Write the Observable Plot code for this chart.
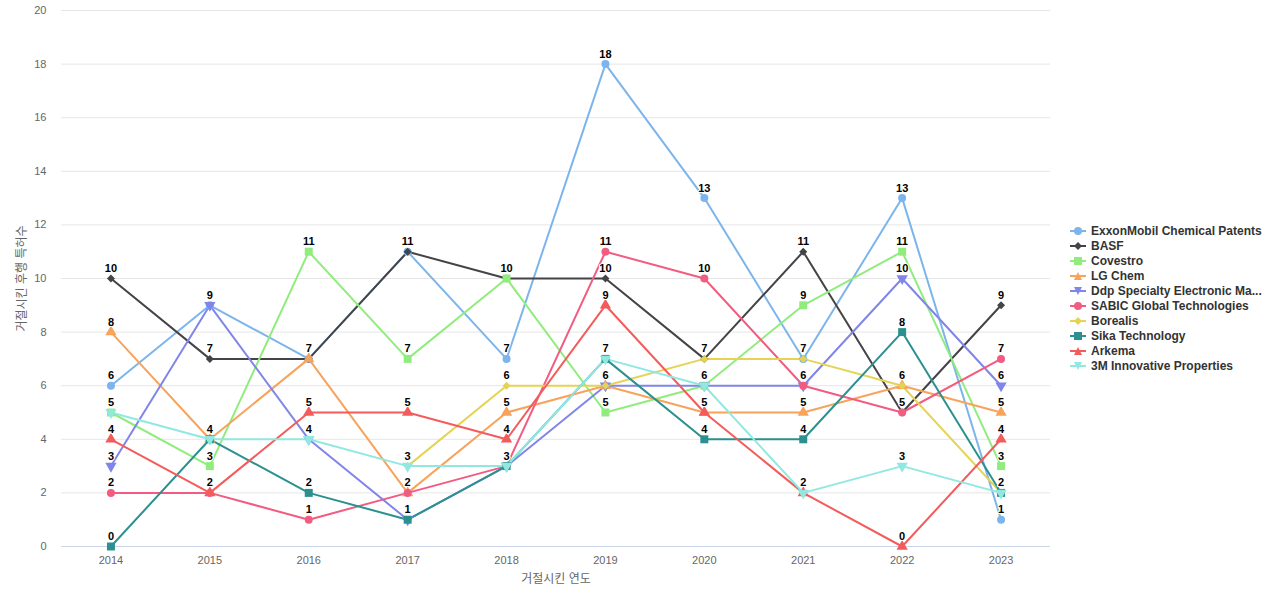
<!DOCTYPE html>
<html>
<head>
<meta charset="utf-8">
<script src="https://cdn.jsdelivr.net/npm/d3@7"></script>
<script src="https://cdn.jsdelivr.net/npm/@observablehq/plot@0.6"></script>
<style>
  body { margin: 0; background: #fff; font-family: "Liberation Sans", Arial, "Noto Sans CJK KR", sans-serif; }
  #wrap { position: relative; width: 1280px; height: 600px; }
  #legend { position: absolute; left: 1070px; top: 223px; }
  .item { display: flex; align-items: center; height: 15px; font-size: 12px; font-weight: bold; color: #333; }
  .item svg { flex: none; margin-right: 5px; }
  .item span { white-space: nowrap; }
</style>
</head>
<body>
<div id="wrap"><div id="chart"></div><div id="legend"></div></div>
<script>
const years = ["2014","2015","2016","2017","2018","2019","2020","2021","2022","2023"];
const seriesNames = [
  "ExxonMobil Chemical Patents", "BASF", "Covestro", "LG Chem",
  "Ddp Specialty Electronic Materials", "SABIC Global Technologies",
  "Borealis", "Sika Technology", "Arkema", "3M Innovative Properties"
];
const exxonmobil = [6, 9, 7, 11, 7, 18, 13, 7, 13, 1];
const basf       = [10, 7, 7, 11, 10, 10, 7, 11, 5, 9];
const covestro   = [5, 3, 11, 7, 10, 5, 6, 9, 11, 3];
const lgchem     = [8, 4, 7, 2, 5, 6, 5, 5, 6, 5];
const ddp        = [3, 9, 4, 1, 3, 6, 6, 6, 10, 6];
const sabic      = [2, 2, 1, 2, 3, 11, 10, 6, 5, 7];
const borealis   = [null, null, null, 3, 6, 6, 7, 7, 6, 2];
const sika       = [0, 4, 2, 1, 3, 7, 4, 4, 8, 2];
const arkema     = [4, 2, 5, 5, 4, 9, 5, 2, 0, 4];
const threeM     = [5, 4, 4, 3, 3, 7, 6, 2, 3, 2];
const seriesValues = [exxonmobil, basf, covestro, lgchem, ddp, sabic, borealis, sika, arkema, threeM];
const colors = ["#7cb5ec","#434348","#90ed7d","#f7a35c","#8085e9","#f15c80","#e4d354","#2b908f","#f45b5b","#91e8e1"];
const symbols = ["circle","diamond","square","triangle","triangle-down","circle","diamond","square","triangle","triangle-down"];
const yTicks = [0, 2, 4, 6, 8, 10, 12, 14, 16, 18, 20];
const xTitle = "거절시킨 연도";
const yTitle = "거절시킨 후행 특허수";

const rows = [];
seriesNames.forEach((name, i) => {
  seriesValues[i].forEach((v, j) => rows.push({series: name, year: years[j], value: v, idx: i}));
});

function symbolSpec(s) {
  if (s === "circle") return {symbol: "circle", r: 4, rotate: 0};
  if (s === "diamond") return {symbol: "square", r: 3.2, rotate: 45};
  if (s === "square") return {symbol: "square", r: 4.5, rotate: 0};
  if (s === "triangle") return {symbol: "triangle", r: 4.2, rotate: 0};
  return {symbol: "triangle", r: 4.2, rotate: 180};
}

const marks = [
  Plot.gridY(yTicks, {stroke: "#e6e6e6", strokeOpacity: 1}),
  Plot.ruleY([0], {stroke: "#ccd6eb"}),
];
seriesNames.forEach((name, i) => {
  const data = rows.filter(d => d.idx === i);
  marks.push(Plot.line(data, {x: "year", y: "value", stroke: colors[i], strokeWidth: 2, defined: d => d.value != null}));
});
seriesNames.forEach((name, i) => {
  const data = rows.filter(d => d.idx === i && d.value != null);
  const sp = symbolSpec(symbols[i]);
  marks.push(Plot.dot(data, {x: "year", y: "value", fill: colors[i], stroke: "none", symbol: sp.symbol, r: sp.r, rotate: sp.rotate}));
});
marks.push(Plot.text(rows.filter(d => d.value != null), {
  x: "year", y: "value", text: d => String(d.value), dy: -10,
  fill: "#000", stroke: "white", strokeWidth: 2, paintOrder: "stroke",
  fontWeight: "bold", fontSize: 11
}));

const chart = Plot.plot({
  width: 1280, height: 600,
  marginLeft: 61, marginRight: 230, marginTop: 10, marginBottom: 54,
  style: {fontFamily: '"Liberation Sans", Arial, "Noto Sans CJK KR", sans-serif', fontSize: "11px", color: "#666", background: "white"},
  x: {type: "point", domain: years, padding: 0.5, round: false, label: xTitle, labelAnchor: "center", labelArrow: "none", labelOffset: 36, tickSize: 0, tickPadding: 10},
  y: {domain: [0, 20], ticks: yTicks, label: yTitle, labelAnchor: "center", labelArrow: "none", labelOffset: 44, tickSize: 0, tickPadding: 15},
  marks
});
document.getElementById("chart").appendChild(chart);
chart.querySelectorAll('[aria-label="x-axis label"] text, [aria-label="y-axis label"] text').forEach(t => { t.setAttribute("font-size", "12px"); });

const legend = document.getElementById("legend");
seriesNames.forEach((name, i) => {
  const sp = symbols[i];
  let shape;
  const c = colors[i];
  if (sp === "circle") shape = `<circle cx="8" cy="7" r="4" fill="${c}"/>`;
  else if (sp === "diamond") shape = `<path d="M8 3 L12 7 L8 11 L4 7Z" fill="${c}"/>`;
  else if (sp === "square") shape = `<rect x="4" y="3" width="8" height="8" fill="${c}"/>`;
  else if (sp === "triangle") shape = `<path d="M8 3 L12 11 L4 11Z" fill="${c}"/>`;
  else shape = `<path d="M4 3 L12 3 L8 11Z" fill="${c}"/>`;
  const shown = name.length > 30 ? name.slice(0, 27) + "..." : name;
  const div = document.createElement("div");
  div.className = "item";
  div.innerHTML = `<svg width="16" height="14"><line x1="0" x2="16" y1="7" y2="7" stroke="${c}" stroke-width="2"/>${shape}</svg><span>${shown}</span>`;
  legend.appendChild(div);
});
</script>
</body>
</html>
